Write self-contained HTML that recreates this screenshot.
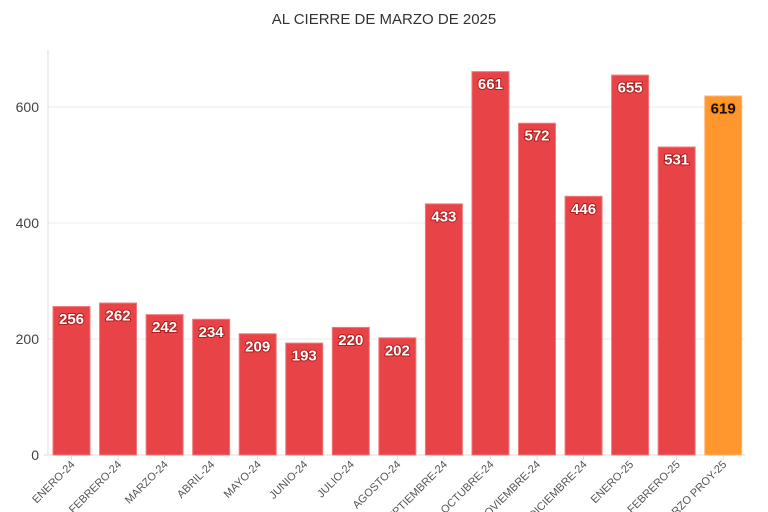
<!DOCTYPE html>
<html><head><style>body{margin:0;background:#fff}svg{display:block}</style></head><body>
<svg width="768" height="512" xmlns="http://www.w3.org/2000/svg" font-family="Liberation Sans, sans-serif">
<text x="384" y="24" text-anchor="middle" font-size="15" fill="#333">AL CIERRE DE MARZO DE 2025</text>
<g stroke="#ebebeb" stroke-width="1">
<line x1="48" y1="339" x2="745" y2="339"/><line x1="48" y1="223" x2="745" y2="223"/><line x1="48" y1="107" x2="745" y2="107"/>
</g>
<line x1="48" y1="50" x2="48" y2="455" stroke="#ddd"/>
<line x1="44" y1="455" x2="745" y2="455" stroke="#ddd"/>
<g font-size="14" fill="#444" text-anchor="end">
<text x="39" y="460">0</text><text x="39" y="344">200</text><text x="39" y="228">400</text><text x="39" y="112">600</text>
</g>
<g fill="#e84346" stroke="#f07a7c" stroke-width="1">
<rect x="53" y="306.52" width="37" height="148.48"/>
<rect x="99.55" y="303.04" width="37" height="151.96"/>
<rect x="146.1" y="314.64" width="37" height="140.36"/>
<rect x="192.65" y="319.28" width="37" height="135.72"/>
<rect x="239.2" y="333.78" width="37" height="121.22"/>
<rect x="285.75" y="343.06" width="37" height="111.94"/>
<rect x="332.3" y="327.4" width="37" height="127.6"/>
<rect x="378.85" y="337.84" width="37" height="117.16"/>
<rect x="425.4" y="203.86" width="37" height="251.14"/>
<rect x="471.95" y="71.62" width="37" height="383.38"/>
<rect x="518.5" y="123.24" width="37" height="331.76"/>
<rect x="565.05" y="196.32" width="37" height="258.68"/>
<rect x="611.6" y="75.1" width="37" height="379.9"/>
<rect x="658.15" y="147.02" width="37" height="307.98"/>
</g>
<rect x="704.7" y="95.98" width="37" height="359.02" fill="#ff962e" stroke="#ffb877"/>
<g font-size="15" font-weight="bold" fill="#fff" stroke="#b02020" stroke-width="2" paint-order="stroke" text-anchor="middle">
<text x="71.5" y="324">256</text>
<text x="118.05" y="320.5">262</text>
<text x="164.6" y="332">242</text>
<text x="211.15" y="336.8">234</text>
<text x="257.7" y="351.3">209</text>
<text x="304.25" y="360.5">193</text>
<text x="350.8" y="344.9">220</text>
<text x="397.35" y="355.3">202</text>
<text x="443.9" y="221.4">433</text>
<text x="490.45" y="89.1">661</text>
<text x="537" y="140.7">572</text>
<text x="583.55" y="213.8">446</text>
<text x="630.1" y="92.6">655</text>
<text x="676.65" y="164.5">531</text>
</g>
<text x="723.2" y="113.5" font-size="15" font-weight="bold" fill="#111" stroke="#ff8a00" stroke-width="2" paint-order="stroke" text-anchor="middle">619</text>
<g stroke="#ddd">
<line x1="71.5" y1="455" x2="71.5" y2="460"/><line x1="118.05" y1="455" x2="118.05" y2="460"/><line x1="164.6" y1="455" x2="164.6" y2="460"/><line x1="211.15" y1="455" x2="211.15" y2="460"/><line x1="257.7" y1="455" x2="257.7" y2="460"/><line x1="304.25" y1="455" x2="304.25" y2="460"/><line x1="350.8" y1="455" x2="350.8" y2="460"/><line x1="397.35" y1="455" x2="397.35" y2="460"/><line x1="443.9" y1="455" x2="443.9" y2="460"/><line x1="490.45" y1="455" x2="490.45" y2="460"/><line x1="537" y1="455" x2="537" y2="460"/><line x1="583.55" y1="455" x2="583.55" y2="460"/><line x1="630.1" y1="455" x2="630.1" y2="460"/><line x1="676.65" y1="455" x2="676.65" y2="460"/><line x1="723.2" y1="455" x2="723.2" y2="460"/>
</g>
<g font-size="11" fill="#555" text-anchor="end">
<text transform="translate(75.5,465) rotate(-45)">ENERO-24</text>
<text transform="translate(122.05,465) rotate(-45)">FEBRERO-24</text>
<text transform="translate(168.6,465) rotate(-45)">MARZO-24</text>
<text transform="translate(215.15,465) rotate(-45)">ABRIL-24</text>
<text transform="translate(261.7,465) rotate(-45)">MAYO-24</text>
<text transform="translate(308.25,465) rotate(-45)">JUNIO-24</text>
<text transform="translate(354.8,465) rotate(-45)">JULIO-24</text>
<text transform="translate(401.35,465) rotate(-45)">AGOSTO-24</text>
<text transform="translate(447.9,465) rotate(-45)">SEPTIEMBRE-24</text>
<text transform="translate(494.45,465) rotate(-45)">OCTUBRE-24</text>
<text transform="translate(541,465) rotate(-45)">NOVIEMBRE-24</text>
<text transform="translate(587.55,465) rotate(-45)">DICIEMBRE-24</text>
<text transform="translate(634.1,465) rotate(-45)">ENERO-25</text>
<text transform="translate(680.65,465) rotate(-45)">FEBRERO-25</text>
<text transform="translate(727.2,465) rotate(-45)">MARZO PROY-25</text>
</g>
</svg>
</body></html>
